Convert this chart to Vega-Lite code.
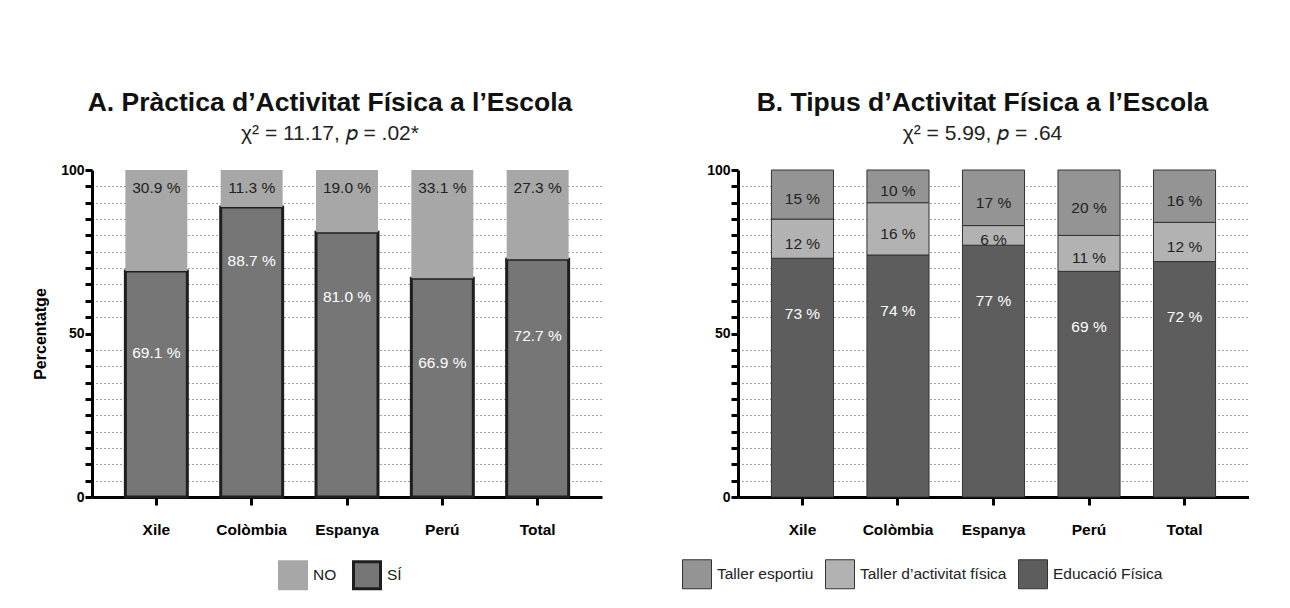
{
  "$schema": "https://vega.github.io/schema/vega-lite/v6.json",
  "padding": {"left": 32, "top": 89, "right": 0, "bottom": 0},
  "background": "white",
  "spacing": 80,
  "resolve": {"scale": {"fill": "independent", "x": "independent", "y": "independent"}, "legend": {"fill": "independent"}, "axis": {"y": "independent"}},
  "config": {
    "font": "Liberation Sans",
    "view": {"stroke": null},
    "axisX": {"title": null, "labelAngle": 0, "labelFontSize": 15.5, "labelFontWeight": "bold", "labelColor": "#000", "labelPadding": 17, "tickSize": 8, "tickWidth": 3, "tickColor": "#000", "domainWidth": 3, "domainColor": "#000", "grid": false},
    "axisY": {"labelFontSize": 14, "labelFontWeight": "bold", "labelColor": "#000", "labelPadding": 1, "tickSize": 7, "tickWidth": 3, "tickColor": "#000", "domainWidth": 3, "domainColor": "#000", "grid": true, "gridDash": [1, 3], "gridColor": "#444", "gridWidth": 1},
    "legend": {"title": null, "orient": "none", "direction": "horizontal", "symbolType": "square", "symbolSize": 841, "labelFontSize": 15.5, "labelColor": "#222", "labelOffset": 5, "padding": 0}
  },
  "datasets": {
    "a": [
      {"country": "Xile", "resp": "SÍ", "value": 69.1},
      {"country": "Xile", "resp": "NO", "value": 30.9},
      {"country": "Colòmbia", "resp": "SÍ", "value": 88.7},
      {"country": "Colòmbia", "resp": "NO", "value": 11.3},
      {"country": "Espanya", "resp": "SÍ", "value": 81.0},
      {"country": "Espanya", "resp": "NO", "value": 19.0},
      {"country": "Perú", "resp": "SÍ", "value": 66.9},
      {"country": "Perú", "resp": "NO", "value": 33.1},
      {"country": "Total", "resp": "SÍ", "value": 72.7},
      {"country": "Total", "resp": "NO", "value": 27.3}
    ],
    "b": [
      {"country": "Xile", "type": "Educació Física", "value": 73},
      {"country": "Xile", "type": "Taller d’activitat física", "value": 12},
      {"country": "Xile", "type": "Taller esportiu", "value": 15},
      {"country": "Colòmbia", "type": "Educació Física", "value": 74},
      {"country": "Colòmbia", "type": "Taller d’activitat física", "value": 16},
      {"country": "Colòmbia", "type": "Taller esportiu", "value": 10},
      {"country": "Espanya", "type": "Educació Física", "value": 77},
      {"country": "Espanya", "type": "Taller d’activitat física", "value": 6},
      {"country": "Espanya", "type": "Taller esportiu", "value": 17},
      {"country": "Perú", "type": "Educació Física", "value": 69},
      {"country": "Perú", "type": "Taller d’activitat física", "value": 11},
      {"country": "Perú", "type": "Taller esportiu", "value": 20},
      {"country": "Total", "type": "Educació Física", "value": 72},
      {"country": "Total", "type": "Taller d’activitat física", "value": 12},
      {"country": "Total", "type": "Taller esportiu", "value": 16}
    ]
  },
  "hconcat": [
    {
      "width": 510,
      "height": 327,
      "title": {"text": "A. Pràctica d’Activitat Física a l’Escola", "subtitle": "χ² = 11.17, 𝑝 = .02*", "frame": "group", "anchor": "middle", "dx": -17, "offset": 19, "fontSize": 26.5, "fontWeight": "bold", "color": "#111", "subtitleFontSize": 21, "subtitleColor": "#222", "subtitlePadding": 7, "font": "Liberation Sans", "subtitleFont": "Liberation Sans"},
      "data": {"name": "a"},
      "transform": [
        {"calculate": "datum.resp === 'SÍ' ? 0 : 1", "as": "ord"},
        {"stack": "value", "groupby": ["country"], "sort": [{"field": "ord"}], "as": ["v0", "v1"]},
        {"calculate": "format(datum.value, '.1f') + ' %'", "as": "lab"},
        {"calculate": "datum.resp === 'SÍ' ? 1.43 * datum.v1 - 54.8 : datum.v1 - 5.5", "as": "ly"}
      ],
      "encoding": {
        "x": {"field": "country", "type": "nominal", "sort": ["Xile", "Colòmbia", "Espanya", "Perú", "Total"], "scale": {"paddingInner": 0.35, "paddingOuter": 0.35}}
      },
      "layer": [
        {
          "mark": {"type": "bar"},
          "encoding": {
            "y": {"field": "v0", "type": "quantitative", "scale": {"domain": [0, 100], "nice": false},
              "axis": {"title": "Percentatge", "titleFontSize": 16, "titleFontWeight": "bold", "titleColor": "#000", "titlePadding": 12,
                "values": [0, 5, 10, 15, 20, 25, 30, 35, 40, 45, 50, 55, 60, 65, 70, 75, 80, 85, 90, 95, 100],
                "labelExpr": "datum.value % 50 === 0 ? datum.label : ''",
                "gridOpacity": {"condition": {"test": "datum.value % 50 === 0", "value": 0}, "value": 1}}},
            "y2": {"field": "v1"},
            "fill": {"field": "resp", "type": "nominal", "scale": {"domain": ["NO", "SÍ"], "range": ["#a6a7a6", "#767676"]},
              "legend": {"legendX": 186, "legendY": 390, "columnPadding": 10, "symbolSize": 729, "symbolStrokeWidth": 3, "symbolStrokeColor": "#1e1e1e",
                "encode": {"symbols": {"update": {"stroke": {"signal": "datum.value === 'SÍ' ? '#1e1e1e' : '#a6a7a6'"}, "strokeWidth": {"value": 3}}}}}},
            "stroke": {"condition": {"test": "datum.resp === 'SÍ'", "value": "#1e1e1e"}, "value": "#a6a7a6"},
            "strokeWidth": {"condition": {"test": "datum.resp === 'SÍ'", "value": 3}, "value": 0}
          }
        },
        {
          "mark": {"type": "text", "fontSize": 15.5},
          "encoding": {
            "y": {"field": "ly", "type": "quantitative",
              "axis": {"title": "Percentatge", "titleFontSize": 16, "titleFontWeight": "bold", "titleColor": "#000", "titlePadding": 12,
                "values": [0, 5, 10, 15, 20, 25, 30, 35, 40, 45, 50, 55, 60, 65, 70, 75, 80, 85, 90, 95, 100],
                "labelExpr": "datum.value % 50 === 0 ? datum.label : ''",
                "gridOpacity": {"condition": {"test": "datum.value % 50 === 0", "value": 0}, "value": 1}}},
            "text": {"field": "lab"},
            "color": {"condition": {"test": "datum.resp === 'SÍ'", "value": "#ffffff"}, "value": "#222222"}
          }
        }
      ]
    },
    {
      "width": 511,
      "height": 327,
      "title": {"text": "B. Tipus d’Activitat Física a l’Escola", "subtitle": "χ² = 5.99, 𝑝 = .64", "frame": "group", "anchor": "middle", "dx": -11, "offset": 19, "fontSize": 26.5, "fontWeight": "bold", "color": "#111", "subtitleFontSize": 21, "subtitleColor": "#222", "subtitlePadding": 7, "font": "Liberation Sans", "subtitleFont": "Liberation Sans"},
      "data": {"name": "b"},
      "transform": [
        {"calculate": "datum.type === 'Educació Física' ? 0 : (datum.type === 'Taller esportiu' ? 2 : 1)", "as": "ord"},
        {"stack": "value", "groupby": ["country"], "sort": [{"field": "ord"}], "as": ["v0", "v1"]},
        {"calculate": "format(datum.value, 'd') + ' %'", "as": "lab"},
        {"calculate": "datum.ord === 0 ? datum.v1 - 17 : (datum.v0 + datum.v1) / 2 - 1.5", "as": "ly"}
      ],
      "encoding": {
        "x": {"field": "country", "type": "nominal", "sort": ["Xile", "Colòmbia", "Espanya", "Perú", "Total"], "scale": {"paddingInner": 0.35, "paddingOuter": 0.35}}
      },
      "layer": [
        {
          "mark": {"type": "bar", "stroke": "#333333", "strokeWidth": 1},
          "encoding": {
            "y": {"field": "v0", "type": "quantitative", "scale": {"domain": [0, 100], "nice": false},
              "axis": {"title": null,
                "values": [0, 5, 10, 15, 20, 25, 30, 35, 40, 45, 50, 55, 60, 65, 70, 75, 80, 85, 90, 95, 100],
                "labelExpr": "datum.value % 50 === 0 ? datum.label : ''",
                "gridOpacity": {"condition": {"test": "datum.value % 50 === 0", "value": 0}, "value": 1}}},
            "y2": {"field": "v1"},
            "fill": {"field": "type", "type": "nominal", "scale": {"domain": ["Taller esportiu", "Taller d’activitat física", "Educació Física"], "range": ["#949494", "#b2b2b2", "#5c5d5c"]},
              "legend": {"legendX": -56, "legendY": 389, "columnPadding": 9, "symbolStrokeWidth": 1, "symbolStrokeColor": "#333333",
                "encode": {"symbols": {"update": {"stroke": {"value": "#333333"}, "strokeWidth": {"value": 1}}}}}}
          }
        },
        {
          "mark": {"type": "text", "fontSize": 15.5},
          "encoding": {
            "y": {"field": "ly", "type": "quantitative",
              "axis": {"title": null,
                "values": [0, 5, 10, 15, 20, 25, 30, 35, 40, 45, 50, 55, 60, 65, 70, 75, 80, 85, 90, 95, 100],
                "labelExpr": "datum.value % 50 === 0 ? datum.label : ''",
                "gridOpacity": {"condition": {"test": "datum.value % 50 === 0", "value": 0}, "value": 1}}},
            "text": {"field": "lab"},
            "color": {"condition": {"test": "datum.ord === 0", "value": "#ffffff"}, "value": "#222222"}
          }
        }
      ]
    }
  ]
}
